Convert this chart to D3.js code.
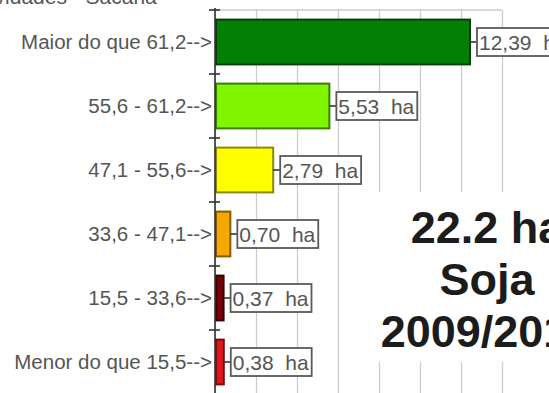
<!DOCTYPE html>
<html>
<head>
<meta charset="utf-8">
<script src="https://cdn.jsdelivr.net/npm/d3@7/dist/d3.min.js"></script>
<style>
  html, body { margin: 0; padding: 0; background: #fff; }
  svg { display: block; }
  text { font-family: "Liberation Sans", Arial, sans-serif; }
</style>
</head>
<body>
<svg id="chart" width="549" height="393"></svg>
<script>
// Productivity classes (sacas/ha) and the area in each class
const classes = [
  "Maior do que 61,2",
  "55,6 - 61,2",
  "47,1 - 55,6",
  "33,6 - 47,1",
  "15,5 - 33,6",
  "Menor do que 15,5"
];
const areas = [12.39, 5.53, 2.79, 0.70, 0.37, 0.38];
const areaLabels = ["12,39", "5,53", "2,79", "0,70", "0,37", "0,38"];
const fills   = ["#037f03", "#80f500", "#ffff00", "#f7a800", "#7a0008", "#e4141c"];
const strokes = ["#0b3d0b", "#3f7f00", "#8c8a00", "#8a5a00", "#3a0004", "#7a0a0e"];
const gridTicks = [0, 2, 4, 6, 8, 10, 12, 14];
const headline = ["22.2 ha", "Soja", "2009/2010"];
const cutTitle = "Produtividades - Sacaria";

const svg = d3.select("#chart");

const x = d3.scaleLinear().domain([0, 14]).range([215, 502]);
const y = d3.scaleBand().domain(classes).range([10, 394])
  .paddingInner(0.3).paddingOuter(0.15);

// partially visible heading at the top edge
svg.append("text")
  .attr("x", -72).attr("y", 4)
  .attr("font-size", 21).attr("fill", "#555")
  .text(cutTitle);

// vertical gridlines
const grid = svg.append("g")
  .attr("transform", "translate(0,394)")
  .call(d3.axisBottom(x).tickValues(gridTicks).tickSize(-384).tickFormat(""));
grid.select(".domain").remove();
grid.selectAll(".tick line").attr("stroke", "#cdcdcd").attr("stroke-width", 1.3);

// top frame line
svg.append("line")
  .attr("x1", x(0)).attr("x2", x(14)).attr("y1", 10).attr("y2", 10)
  .attr("stroke", "#cdcdcd").attr("stroke-width", 1.3);

// white panel behind the headline
svg.append("rect")
  .attr("x", 372).attr("y", 192).attr("width", 180).attr("height", 170)
  .attr("fill", "#fff");

// bars
svg.append("g").selectAll("rect")
  .data(areas)
  .join("rect")
  .attr("x", x(0) + 1)
  .attr("y", (d, i) => y(classes[i]))
  .attr("width", d => x(d) - x(0))
  .attr("height", y.bandwidth())
  .attr("fill", (d, i) => fills[i])
  .attr("stroke", (d, i) => strokes[i])
  .attr("stroke-width", 2);

// category axis
const yAxis = svg.append("g")
  .attr("transform", `translate(${x(0)},0)`)
  .call(d3.axisLeft(y).tickSize(0).tickPadding(3).tickFormat(d => d + "-->"));
yAxis.select(".domain").remove();
yAxis.selectAll("text")
  .attr("font-size", 20.5)
  .attr("fill", "#555")
  .attr("font-family", "'Liberation Sans', Arial, sans-serif");

svg.append("line")
  .attr("x1", x(0)).attr("x2", x(0)).attr("y1", 8).attr("y2", 394)
  .attr("stroke", "#333").attr("stroke-width", 1.6);

// small tick marks at the band boundaries
const bounds = [10].concat(classes.slice(1).map(c => y(c) - y.step() * y.paddingInner() / 2));
svg.append("g").selectAll("line")
  .data(bounds)
  .join("line")
  .attr("x1", x(0) - 6).attr("x2", x(0) + 5)
  .attr("y1", d => d).attr("y2", d => d)
  .attr("stroke", "#333").attr("stroke-width", 1.6);

// value boxes with leader lines
const lab = svg.append("g").selectAll("g")
  .data(areas)
  .join("g")
  .attr("transform", (d, i) => `translate(${x(d) + 1},${y(classes[i]) + y.bandwidth() / 2})`);

lab.append("line")
  .attr("x1", 0).attr("x2", 7).attr("y1", 0).attr("y2", 0)
  .attr("stroke", "#333").attr("stroke-width", 1.6);

const boxes = lab.append("rect")
  .attr("x", 7).attr("y", -14).attr("height", 28)
  .attr("fill", "#fff").attr("stroke", "#5a5a5a").attr("stroke-width", 1.8);

const vals = lab.append("text")
  .attr("x", 9).attr("y", 0).attr("dy", "0.36em")
  .attr("font-size", 21).attr("fill", "#555")
  .style("white-space", "pre")
  .text((d, i) => areaLabels[i] + "  ha");

vals.each(function (d, i) {
  const w = this.getComputedTextLength();
  d3.select(boxes.nodes()[i]).attr("width", w + 5);
});

// headline
svg.append("g").selectAll("text")
  .data(headline)
  .join("text")
  .attr("x", 487)
  .attr("y", (d, i) => 243 + i * 52)
  .attr("text-anchor", "middle")
  .attr("font-size", 45)
  .attr("font-weight", "bold")
  .attr("fill", "#1c1c1c")
  .text(d => d);
</script>
</body>
</html>
